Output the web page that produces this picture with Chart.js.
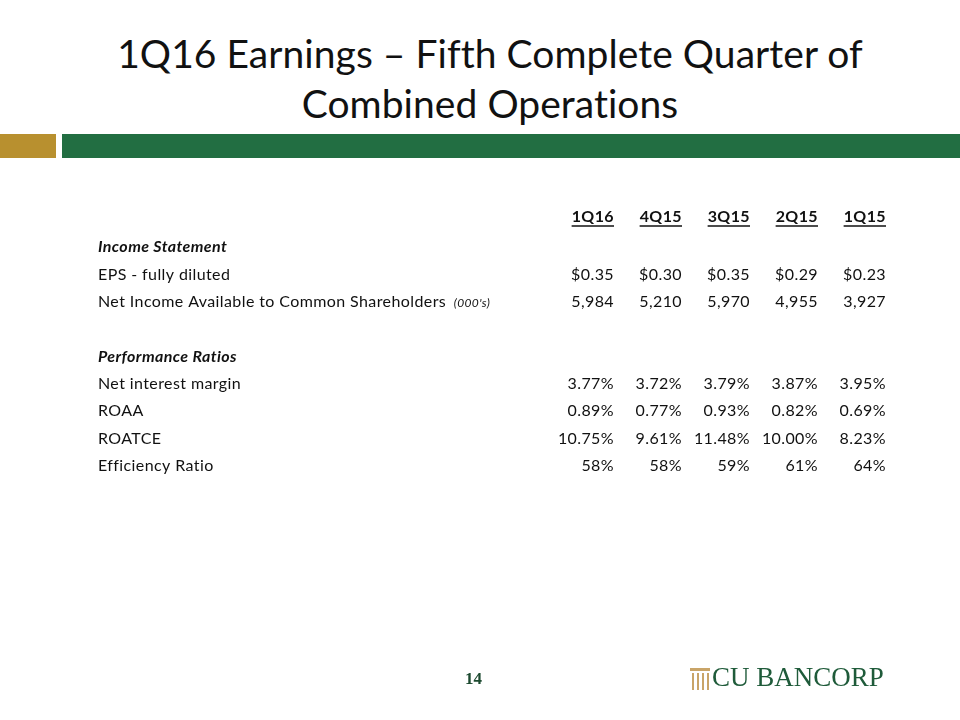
<!DOCTYPE html>
<html>
<head>
<meta charset="utf-8">
<script src="https://cdn.jsdelivr.net/npm/chart.js@4.4.1/dist/chart.umd.min.js"></script>
<style>
    html, body { margin: 0; padding: 0; background: #fff; }
    #page { position: relative; width: 960px; height: 720px; overflow: hidden; font-family: Lato, "Open Sans", sans-serif; }
    #title { position: absolute; left: 10px; top: 28px; width: 960px; text-align: center; font-size: 39px; line-height: 50px; color: #111; font-variant-ligatures: none; letter-spacing: 0.05px; }
    #goldBar { position: absolute; left: 0; top: 134px; width: 56px; height: 24px; background: #b8902f; }
    #greenBar { position: absolute; left: 62px; top: 134px; width: 898px; height: 24px; background: #226e42; }
    #pageNum { position: absolute; left: 465px; top: 669px; font-family: "Liberation Serif", serif; font-weight: bold; font-size: 17px; color: #1d4a30; }
    #logo { position: absolute; left: 690px; top: 662px; height: 30px; }
    #logoText { position: absolute; left: 22px; top: 0; font-family: "Liberation Serif", serif; font-size: 27px; color: #1f5b3a; white-space: nowrap; }
    #pillar { position: absolute; left: 0; top: 6px; width: 20px; height: 22px; }
    #pillar .cap { position: absolute; left: 0; top: 0; width: 20px; height: 3px; background: #c9a468; }
    #pillar .col { position: absolute; top: 5px; width: 2px; height: 17px; background: #c9a468; }
    #chartBox { position: absolute; left: 0; top: 0; width: 960px; height: 720px; }
</style>
</head>
<body>
<div id="page">
    <div id="title">1Q16 Earnings – Fifth Complete Quarter of<br>Combined Operations</div>
    <div id="goldBar"></div>
    <div id="greenBar"></div>
    <div id="chartBox"><canvas id="tableChart"></canvas></div>
    <div id="pageNum">14</div>
    <div id="logo">
        <div id="pillar">
            <div class="cap"></div>
            <div class="col" style="left:2px"></div>
            <div class="col" style="left:7px"></div>
            <div class="col" style="left:12px"></div>
            <div class="col" style="left:17px"></div>
        </div>
        <div id="logoText">CU BANCORP</div>
    </div>
</div>
<script>
// column headers (quarters)
const quarters = ['1Q16', '4Q15', '3Q15', '2Q15', '1Q15'];

// rows of the table, top to bottom (header sits above these)
const rowLabels = [
    'Income Statement',
    'EPS - fully diluted',
    'Net Income Available to Common Shareholders',
    ' ',
    'Performance Ratios',
    'Net interest margin',
    'ROAA',
    'ROATCE',
    'Efficiency Ratio'
];
const sectionRows = ['Income Statement', 'Performance Ratios'];

// values per row
const eps = [0.35, 0.30, 0.35, 0.29, 0.23];
const netIncome = [5984, 5210, 5970, 4955, 3927];
const netInterestMargin = [3.77, 3.72, 3.79, 3.87, 3.95];
const roaa = [0.89, 0.77, 0.93, 0.82, 0.69];
const roatce = [10.75, 9.61, 11.48, 10.00, 8.23];
const efficiency = [58, 58, 59, 61, 64];

const money = v => '$' + v.toFixed(2);
const thousands = v => v.toLocaleString('en-US');
const pct2 = v => v.toFixed(2) + '%';
const pct0 = v => v + '%';

const tableRows = [
    { row: 'EPS - fully diluted', values: eps, fmt: money },
    { row: 'Net Income Available to Common Shareholders', values: netIncome, fmt: thousands },
    { row: 'Net interest margin', values: netInterestMargin, fmt: pct2 },
    { row: 'ROAA', values: roaa, fmt: pct2 },
    { row: 'ROATCE', values: roatce, fmt: pct2 },
    { row: 'Efficiency Ratio', values: efficiency, fmt: pct0 }
];

const BODY_FONT = 'Lato, "Open Sans", sans-serif';
const LABEL_X = 98;

// draws the table text at the positions the scales give
const tableText = {
    id: 'tableText',
    afterDatasetsDraw(chart) {
        const ctx = chart.ctx;
        const xScale = chart.scales.x;
        const yScale = chart.scales.y;
        ctx.save();
        ctx.fillStyle = '#111';
        ctx.strokeStyle = '#111';
        ctx.textBaseline = 'middle';
        ctx.letterSpacing = '0.4px';

        // header row, 30px above the first table row
        const hy = yScale.getPixelForValue(0) - 30;
        ctx.font = 'bold 16px ' + BODY_FONT;
        ctx.textAlign = 'right';
        quarters.forEach((q, i) => {
            const x = xScale.getPixelForValue(i);
            ctx.fillText(q, x, hy);
            const w = ctx.measureText(q).width;
            ctx.lineWidth = 1.5;
            ctx.beginPath();
            ctx.moveTo(x - w, hy + 9);
            ctx.lineTo(x, hy + 9);
            ctx.stroke();
        });

        // row labels
        ctx.textAlign = 'left';
        rowLabels.forEach((label, i) => {
            if (!label.trim()) return;
            const y = yScale.getPixelForValue(i);
            if (sectionRows.includes(label)) {
                ctx.font = 'italic bold 16px ' + BODY_FONT;
                ctx.fillText(label, LABEL_X, y);
            } else {
                ctx.font = '16px ' + BODY_FONT;
                ctx.fillText(label, LABEL_X, y);
                if (label.startsWith('Net Income')) {
                    const w = ctx.measureText(label + ' ').width;
                    ctx.font = 'italic 12px ' + BODY_FONT;
                    ctx.fillText("(000's)", LABEL_X + w + 3, y + 1);
                }
            }
        });

        // cell values, placed on the dataset points
        ctx.font = '16px ' + BODY_FONT;
        ctx.textAlign = 'right';
        chart.data.datasets.forEach((ds, di) => {
            const meta = chart.getDatasetMeta(di);
            meta.data.forEach((pt, i) => {
                ctx.fillText(ds.cellText[i], pt.x, pt.y);
            });
        });
        ctx.restore();
    }
};

document.addEventListener('DOMContentLoaded', function () {
    const datasets = tableRows.map(r => ({
        label: r.row,
        data: r.values.map((v, i) => ({ x: quarters[i], y: r.row })),
        cellText: r.values.map(r.fmt),
        pointRadius: 0,
        pointHoverRadius: 0,
        showLine: false
    }));

    const config = {
        type: 'scatter',
        data: { datasets: datasets },
        options: {
            responsive: true,
            maintainAspectRatio: false,
            animation: false,
            layout: {
                padding: { left: 614, right: 74, top: 247, bottom: 254 }
            },
            scales: {
                x: { type: 'category', labels: quarters, offset: false, display: false },
                y: { type: 'category', labels: rowLabels, offset: false, display: false }
            },
            plugins: {
                legend: { display: false },
                tooltip: { enabled: false }
            }
        },
        plugins: [tableText]
    };

    const tableCtx = document.getElementById('tableChart').getContext('2d');
    new Chart(tableCtx, config);
});
</script>
</body>
</html>
